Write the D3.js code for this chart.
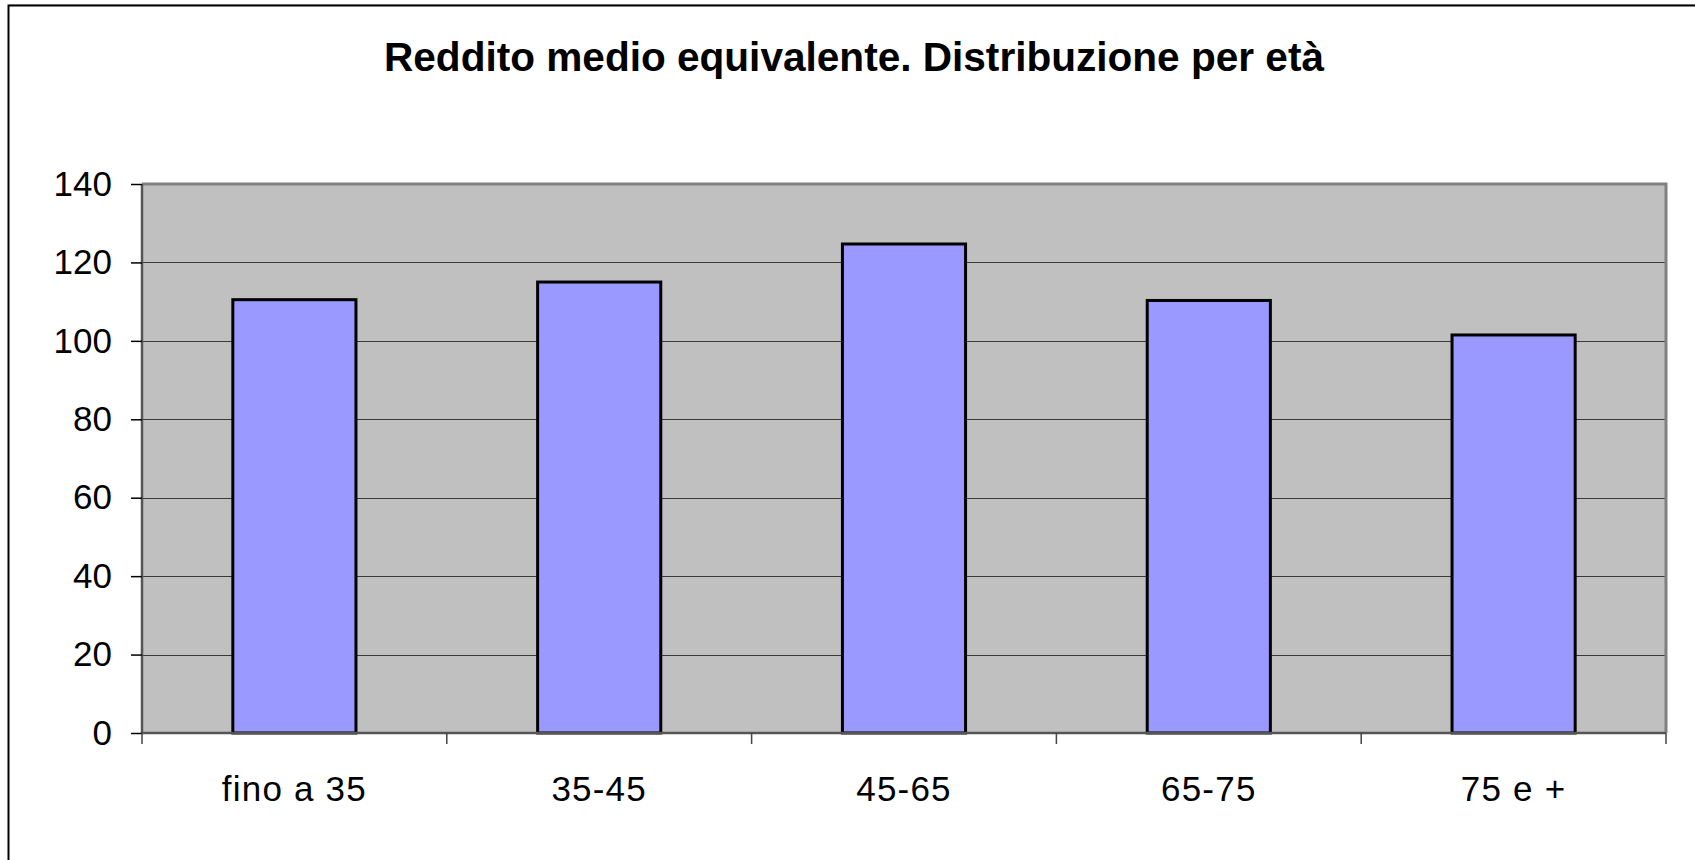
<!DOCTYPE html>
<html>
<head>
<meta charset="utf-8">
<script src="https://cdnjs.cloudflare.com/ajax/libs/d3/7.8.5/d3.min.js"></script>
<style>
  html, body { margin: 0; padding: 0; background: #ffffff; }
  svg { display: block; }
  text { font-family: "Liberation Sans", Arial, sans-serif; fill: #000; }
</style>
</head>
<body>
<svg id="chart" width="1695" height="860"></svg>
<script>
const title = "Reddito medio equivalente. Distribuzione per età";
const categories = ["fino a 35", "35-45", "45-65", "65-75", "75 e +"];
const values = [110.5, 115, 124.7, 110.3, 101.5];
const yTicks = [0, 20, 40, 60, 80, 100, 120, 140];

const W = 1695, H = 860;
const plot = { left: 142, right: 1666, top: 184, bottom: 733 };

const svg = d3.select("#chart");

// outer chart border (top + left visible)
svg.append("path")
  .attr("d", `M8.5,${H + 5} L8.5,5.5 L${W + 5},5.5`)
  .attr("fill", "none").attr("stroke", "#000").attr("stroke-width", 2);
svg.append("line").attr("x1", 9).attr("x2", W).attr("y1", 4.5).attr("y2", 4.5)
  .attr("stroke", "#666").attr("stroke-width", 1);

// title
svg.append("text")
  .attr("x", 854).attr("y", 71)
  .attr("text-anchor", "middle")
  .attr("font-size", 40).attr("font-weight", "bold")
  .attr("textLength", 940).attr("lengthAdjust", "spacingAndGlyphs")
  .text(title);

const x = d3.scaleBand().domain(categories)
  .range([plot.left, plot.right]).paddingInner(0.596).paddingOuter(0.298);
const y = d3.scaleLinear().domain([0, 140]).range([plot.bottom, plot.top]);

// plot background
svg.append("rect")
  .attr("x", plot.left).attr("y", plot.top)
  .attr("width", plot.right - plot.left).attr("height", plot.bottom - plot.top)
  .attr("fill", "#c0c0c0");

// gridlines
svg.append("g").selectAll("line").data(yTicks.filter(d => d > 0 && d < 140)).join("line")
  .attr("x1", plot.left).attr("x2", plot.right)
  .attr("y1", d => Math.round(y(d)) + 0.5).attr("y2", d => Math.round(y(d)) + 0.5)
  .attr("stroke", "#3a3a3a").attr("stroke-width", 1.2);

// plot border top & right (gray)
svg.append("path")
  .attr("d", `M${plot.left},${plot.top} L${plot.right},${plot.top} L${plot.right},${plot.bottom}`)
  .attr("fill", "none").attr("stroke", "#808080").attr("stroke-width", 3);

// bars
svg.append("g").selectAll("rect").data(values).join("rect")
  .attr("x", (d, i) => x(categories[i]))
  .attr("y", d => y(d))
  .attr("width", x.bandwidth())
  .attr("height", d => y(0) - y(d))
  .attr("fill", "#9999ff")
  .attr("stroke", "#000").attr("stroke-width", 3);

// y axis
const yAxis = d3.axisLeft(y).tickValues(yTicks).tickSize(11).tickPadding(19);
const gy = svg.append("g").attr("transform", `translate(${plot.left},0)`).call(yAxis);
gy.select(".domain").attr("stroke", "#555").attr("stroke-width", 2.5).attr("d", `M0,${plot.top}V${plot.bottom}`);
gy.selectAll(".tick line").attr("stroke", "#000").attr("stroke-width", 1.5);
gy.selectAll(".tick text").attr("font-size", 35).attr("font-family", "Liberation Sans, Arial, sans-serif").attr("fill", "#000");

// x axis
const xAxis = d3.axisBottom(x).tickSize(0).tickPadding(0);
const gx = svg.append("g").attr("transform", `translate(0,${plot.bottom})`).call(xAxis);
gx.select(".domain").attr("stroke", "#555").attr("stroke-width", 2.5).attr("d", `M${plot.left},0H${plot.right}`);
gx.selectAll(".tick text").attr("font-size", 35).attr("font-family", "Liberation Sans, Arial, sans-serif")
  .attr("letter-spacing", "1.2px")
  .attr("fill", "#000").attr("dy", null).attr("y", 67.5);
// category boundary ticks
const bounds = d3.range(categories.length + 1).map(i => plot.left + i * x.step() );
gx.append("g").selectAll("line").data(bounds).join("line")
  .attr("x1", d => d).attr("x2", d => d).attr("y1", 0).attr("y2", 11)
  .attr("stroke", "#444").attr("stroke-width", 1.5);
</script>
</body>
</html>
